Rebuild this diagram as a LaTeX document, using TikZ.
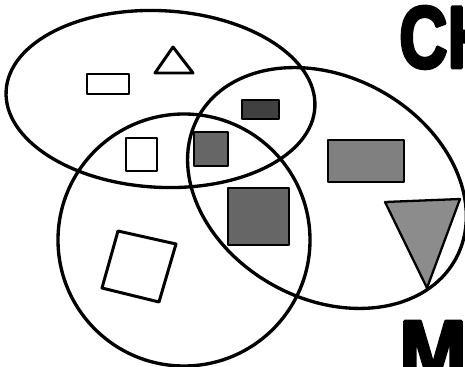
\documentclass[tikz,border=0pt]{standalone}
\usepackage{fontspec}
\newfontfamily\bannerfont{Liberation Sans}[BoldFeatures={FakeBold=4}]
\begin{document}
\begin{tikzpicture}[scale=0.2, line join=round]
  % Frame of the picture; the big letters run off its edge.
  \useasboundingbox (0,0) rectangle (46.5,36.7);
  \clip (0,0) rectangle (46.5,36.7);
  \tikzset{
    ring/.style={line width=1.9pt},
    plain/.style={line width=1.7pt},
    tint/.style={line width=1.3pt, fill=black!#1},
    banner/.style={inner sep=0pt, anchor=north west, font=\bannerfont\bfseries\fontsize{50}{50}\selectfont}
  }
  % Sets: top ellipse, left circle, tilted ellipse on the right.
  \coordinate (T) at (16.05,26.8);
  \coordinate (L) at (18.4,12.7);
  \coordinate (R) at (32.7,17.9);
  \draw[ring, rotate around={-3:(T)}] (T) ellipse (15.46 and 8.83);
  \draw[ring] (L) circle (12.6);
  \draw[ring, rotate around={-29:(R)}] (R) ellipse (14.7 and 11.1);

  % Open shapes.
  \draw[plain] (8.7,29.3) rectangle (12.9,27.3);
  \draw[plain] (15.5,29.4) -- (17.3,32.0) -- (19.3,29.4) -- cycle;
  \draw[plain] (12.6,22.9) rectangle (15.7,19.6);
  \draw[plain] (11.8,13.6) -- (17.6,12.3) -- (15.9,6.5) -- (10.2,7.9) -- cycle;

  % Shaded shapes.
  \draw[tint=75] (24.2,26.7) rectangle (27.9,24.8);
  \draw[tint=60] (19.4,23.5) rectangle (22.8,20.1);
  \draw[tint=60] (22.8,17.9) rectangle (28.9,12.2);
  \draw[tint=50] (32.8,22.7) rectangle (40.4,18.5);
  \draw[tint=45] (38.5,16.5) -- (46.0,16.8) -- (42.7,7.9) -- cycle;

  \node[banner, xscale=0.76] (ch) at (39.9,36.1) {CH};
  \node[banner, xscale=0.92] (m) at (39.9,4.6) {M};
\end{tikzpicture}
\end{document}
